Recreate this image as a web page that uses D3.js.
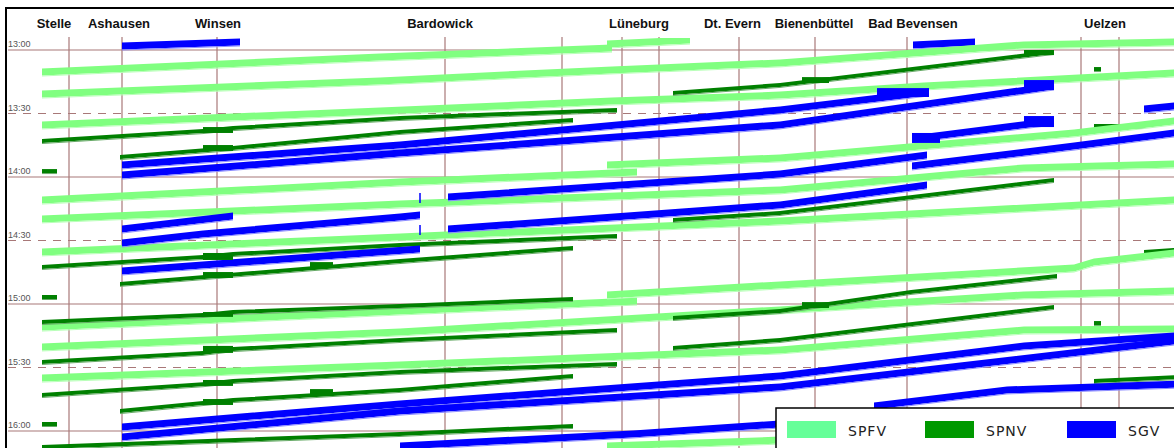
<!DOCTYPE html>
<html><head><meta charset="utf-8">
<script src="https://cdn.jsdelivr.net/npm/d3@7"></script>
<style>body{margin:0;background:#fff}svg{display:block}</style>
</head><body><svg id="c" width="1174" height="448"></svg>
<script>
// ---- data ----
const stationNames = ["Stelle","Ashausen","Winsen","Bardowick","Lüneburg","Dt. Evern","Bienenbüttel","Bad Bevensen","Uelzen"];
const stationLabelKm = [5.4,11.9,21.8,44.0,63.9,73.25,81.4,91.3,110.5];
const gridKm = [6.9,12.2,21.7,44.5,56.2,62.2,65.9,73.9,81.5,90.7,108.1,111.9];
const timeTicks = [0,30,60,90,120,150,180];           // minutes after 13:00
const timeLabels = ["13:00","13:30","14:00","14:30","15:00","15:30","16:00"];
const categories = ["SPFV","SPNV","SGV"];

const trainCat = ["SGV","SGV","SPFV","SPFV","SPFV","SPFV","SPNV","SPNV","SPNV","SGV","SGV","SGV","SPNV","SGV","SPNV","SPNV",
  "SPFV","SPFV","SPFV","SPFV","SPNV","SPNV","SPNV","SGV","SGV","SGV","SGV","SGV","SGV","SPNV","SPNV",
  "SPFV","SPFV","SPFV","SPFV","SPNV","SPNV","SPNV","SPNV","SPNV","SPNV","SPNV","SPNV","SPNV","SPNV",
  "SGV","SGV","SGV","SGV","SPFV"];
const trainKm = [
  [12.2,24.0],[91.3,97.5],[60.7,69.0],[4.2,38.0,61.2],[4.2,38.0,61.2,78.0,102.4,117.4],[4.2,38.0,61.2,78.0,92.4,117.4],
  [4.2,20.3,23.3,40.0,61.7],[67.3,78.0,105.4],[12.0,23.3,40.0,57.3],[12.2,40.0,78.0,92.9],[12.2,40.0,78.0,105.4],[91.2,105.4],
  [109.4,114.4],[114.4,117.4],[109.4,110.1],[4.2,5.7],
  [4.2,40.0,63.7],[60.7,78.0,107.4,117.4],[4.2,40.0,78.0,102.4,117.4],[4.2,40.0,78.0,117.4],
  [4.2,20.3,23.3,40.0,61.7],[67.3,78.0,105.4],[12.0,40.0,57.3],[12.2,23.3],[12.2,20.3,40.0,42.0],[44.8,78.0,92.7],
  [12.2,42.0],[44.8,78.0,92.7],[91.2,107.4,117.4],[4.2,5.7],[114.4,117.4],
  [4.2,40.0,63.7],[60.7,78.0,107.4,109.4,117.4],[4.2,40.0,78.0,102.4,117.4],[4.2,40.0,78.0,102.4,117.4],
  [4.2,20.3,23.3,40.0,57.3],[4.2,20.3,23.3,40.0,61.7],[4.2,20.3,23.3,40.0,61.7],[12.0,20.3,23.3,40.0,57.3],
  [67.3,78.0,91.1,105.7],[67.3,78.0,105.4],[109.4,117.4],[109.4,110.1],[4.2,5.7],[4.2,40.0,57.3],
  [12.2,40.0,78.0,102.4,117.4],[12.2,40.0,78.0,117.4],[40.0,63.3,78.0],[87.4,100.7,117.4],[60.7,78.0]
];
const trainMin = [
  [-1.9,-3.8],[-2.4,-3.8],[-2.8,-4.7],[10.4,3.3,-0.9],[20.8,14.6,9.4,6.1,-2.4,-3.8],[35.4,28.8,24.1,21.3,17.0,10.9],
  [43.0,38.3,36.9,32.1,28.3],[20.3,16.5,0.9],[50.6,46.3,38.7,33.1],[54.3,44.9,28.3,19.8],[59.1,48.7,35.4,17.0],[42.0,33.5],
  [35.9,35.9],[27.9,26.5],[9.0,9.0],[57.2,57.2],
  [70.9,62.4,57.6],[54.3,51.0,39.2,33.5],[79.8,72.8,66.1,55.7,53.9],[95.4,88.3,80.8,70.9],
  [102.5,97.8,96.4,92.1,87.9],[80.3,77.0,61.4],[110.5,99.7,93.5],[84.6,78.4],[91.2,86.9,78.9,78.0],[69.4,58.6,49.6],
  [104.4,94.0],[84.6,73.2,63.8],[54.8,45.4,39.2],[116.7,116.7],[95.4,94.5],
  [130.9,123.3,118.6],[115.7,111.0,103.0,100.2,95.9],[140.3,133.2,122.8,115.7,113.9],[155.0,148.8,141.7,132.3,131.8],
  [128.5,125.2,123.8,120.9,117.6],[147.4,143.1,141.3,137.0,132.3],[163.0,157.9,156.4,152.1,148.3],[170.6,166.8,165.4,160.6,154.0],
  [126.6,123.3,114.3,106.8],[140.8,137.0,121.4],[156.4,154.6],[129.0,129.0],[176.7,176.7],[187.6,181.4,177.6],
  [178.1,167.2,154.0,139.8,135.1],[182.8,170.6,159.2,137.5],[187.1,181.4,176.7],[168.2,160.6,157.9],[187.1,184.3]
];
// longer blocking-time blocks at stations (km from/to, minutes from/to)
const blockCat = ["SPNV","SPNV","SPNV","SPNV","SPNV","SPNV","SPNV","SPNV","SPNV","SPNV","SPNV","SPNV","SPNV",
  "SGV","SGV","SGV","SGV"];
const blockKm = [[20.3,23.3],[20.3,23.3],[20.3,23.3],[20.3,23.3],[31.0,33.3],[20.3,23.3],[20.3,23.3],[20.3,23.3],
  [20.3,23.3],[31.0,33.3],[80.2,82.9],[80.2,82.9],[102.4,105.4],
  [87.7,92.9],[102.4,105.4],[91.2,94.0],[102.4,105.4]];
const blockMin = [[36.4,39.2],[44.9,47.7],[95.9,99.2],[104.9,107.7],[100.2,103.0],[123.8,126.1],[139.8,143.1],[155.9,158.7],
  [164.9,167.7],[160.2,163.5],[12.8,15.6],[119.1,121.9],[0.0,2.4],
  [18.0,22.2],[14.2,18.9],[39.2,43.9],[31.2,36.4]];
// waiting freight train at Bardowick (dashed vertical)
const waitKm = [42.0];
const waitMin = [[67.6, 89.8]];

// ---- drawing ----
const svg = d3.select("#c");
const W = 1174, H = 448;
const x = d3.scaleLinear().domain([0,117.4]).range([0,W]);
const y = d3.scaleLinear().domain([0,180]).range([50,431]);

const fill = {SPFV:"#80ff80", SPNV:"#008000", SGV:"#0000ff"};
const pale = {SPFV:"#b8ffb8", SPNV:"#66aa66", SGV:"#8c8cff"};
const legendFill = {SPFV:"#66ff99", SPNV:"#009900", SGV:"#0000ff"};
const thick = {SPFV:7, SPNV:4, SGV:7};
const gridColor = "#a87878";

svg.append("rect").attr("width",W).attr("height",H).attr("fill","#fff");

// grid
const g = svg.append("g");
g.selectAll("line.v").data(gridKm).join("line").attr("class","v")
  .attr("x1",d=>x(d)).attr("x2",d=>x(d)).attr("y1",37).attr("y2",H)
  .attr("stroke",gridColor).attr("stroke-width",1.2);
g.selectAll("line.h").data(timeTicks).join("line").attr("class","h")
  .attr("x1",8).attr("x2",W).attr("y1",d=>y(d)).attr("y2",d=>y(d))
  .attr("stroke",gridColor).attr("stroke-width",1.2)
  .attr("stroke-dasharray",d=>d%60===0?null:"8,7");
g.selectAll("text.t").data(timeTicks).join("text").attr("class","t")
  .attr("x",8).attr("y",d=>y(d)-3)
  .attr("font-family","Liberation Sans, Arial, sans-serif").attr("font-size",9).attr("fill","#555")
  .text((d,i)=>timeLabels[i]);

// trains
svg.append("clipPath").attr("id","pc").append("rect")
  .attr("x",8).attr("y",38).attr("width",W).attr("height",H);
const tg = svg.append("g").attr("clip-path","url(#pc)");
trainKm.forEach((kms,i)=>{
  const cat = trainCat[i];
  const pts = kms.map((k,j)=>[k, trainMin[i][j]]);
  const th = thick[cat];
  const area = d3.area().x(d=>x(d[0])).y0(d=>y(d[1])-th/2).y1(d=>y(d[1])+th/2);
  tg.append("path").attr("d",area(pts)).attr("fill",fill[cat]);
  const ln = d3.line().x(d=>x(d[0])).y(d=>y(d[1])+th/2+0.5);
  tg.append("path").attr("d",ln(pts)).attr("fill","none").attr("stroke",pale[cat]).attr("stroke-width",1);
});
blockKm.forEach((k,i)=>{
  tg.append("rect").attr("x",x(k[0])).attr("width",x(k[1])-x(k[0]))
    .attr("y",y(blockMin[i][0])).attr("height",y(blockMin[i][1])-y(blockMin[i][0]))
    .attr("fill",fill[blockCat[i]]);
});
waitKm.forEach((k,i)=>{
  tg.append("line").attr("x1",x(k)).attr("x2",x(k)).attr("y1",y(waitMin[i][0])).attr("y2",y(waitMin[i][1]))
    .attr("stroke","#0000ff").attr("stroke-width",1.5).attr("stroke-dasharray","10,22");
});

// station labels
svg.selectAll("text.s").data(stationNames).join("text").attr("class","s")
  .attr("x",(d,i)=>x(stationLabelKm[i])).attr("y",28).attr("text-anchor","middle")
  .attr("font-family","Liberation Sans, Arial, sans-serif").attr("font-weight","bold").attr("font-size",13)
  .attr("fill","#111").text(d=>d);

// frame
svg.append("path").attr("d",`M6,${H+5}V8H${W+5}`).attr("fill","none").attr("stroke","#000").attr("stroke-width",2);

// legend
const lg = svg.append("g");
lg.append("rect").attr("x",776).attr("y",408).attr("width",420).attr("height",60)
  .attr("fill","#fff").attr("stroke","#000").attr("stroke-width",1.5);
const lgX = [787,925,1067];
categories.forEach((c,i)=>{
  lg.append("rect").attr("x",lgX[i]).attr("y",421).attr("width",49).attr("height",17).attr("fill",legendFill[c]);
  lg.append("text").attr("x",lgX[i]+61).attr("y",436)
    .attr("font-family","DejaVu Sans, sans-serif").attr("font-size",14).attr("letter-spacing",1)
    .attr("fill","#222").text(c);
});
</script></body></html>
